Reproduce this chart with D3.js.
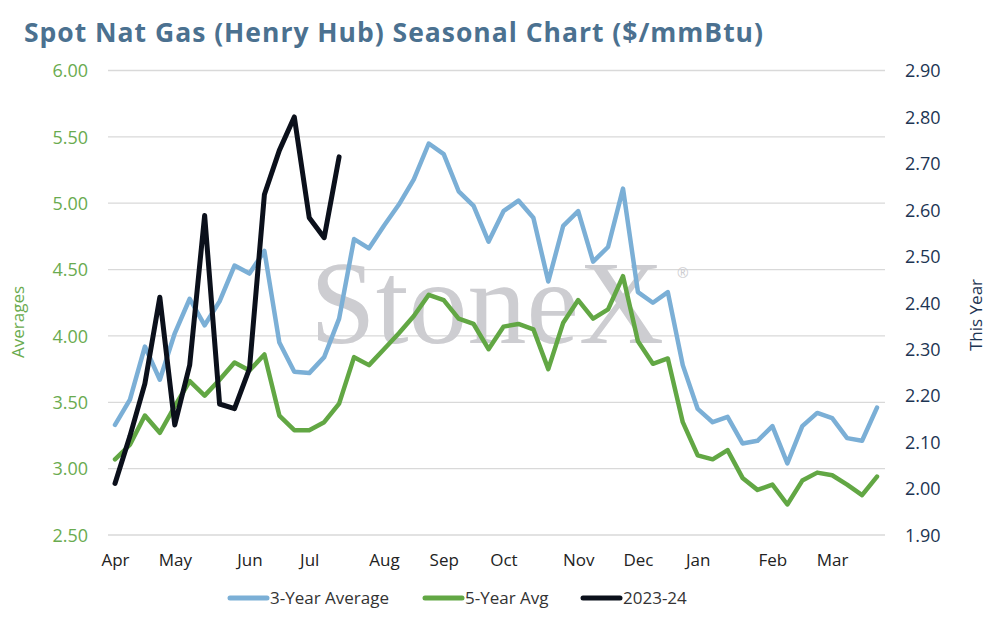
<!DOCTYPE html>
<html>
<head>
<meta charset="utf-8">
<script src="https://cdnjs.cloudflare.com/ajax/libs/d3/7.8.5/d3.min.js"></script>
<style>
  body { margin: 0; background: #fff; }
  text { font-family: "Open Sans", "Noto Sans", sans-serif; }
</style>
</head>
<body>
<div id="chart"></div>
<script>
// week categories: Mondays from 3 Apr 2023 to 25 Mar 2024 (52 weeks)
var weeks = d3.timeMonday.range(new Date(2023, 3, 3), new Date(2024, 2, 26));

// 3-Year Average (left axis)
var avg3 = [3.33, 3.52, 3.92, 3.67, 4.02, 4.28, 4.08, 4.26, 4.53, 4.47,
  4.64, 3.95, 3.73, 3.72, 3.84, 4.13, 4.73, 4.66, 4.83, 4.99,
  5.18, 5.45, 5.37, 5.09, 4.98, 4.71, 4.94, 5.02, 4.89, 4.41,
  4.83, 4.94, 4.56, 4.67, 5.11, 4.33, 4.25, 4.33, 3.78, 3.45,
  3.35, 3.39, 3.19, 3.21, 3.32, 3.04, 3.32, 3.42, 3.38, 3.23,
  3.21, 3.46];

// 5-Year Avg (left axis)
var avg5 = [3.07, 3.18, 3.40, 3.27, 3.47, 3.66, 3.55, 3.67, 3.80, 3.74,
  3.86, 3.40, 3.29, 3.29, 3.35, 3.49, 3.84, 3.78, 3.90, 4.02,
  4.15, 4.31, 4.27, 4.13, 4.09, 3.90, 4.07, 4.09, 4.05, 3.75,
  4.10, 4.27, 4.13, 4.20, 4.45, 3.96, 3.79, 3.83, 3.35, 3.10,
  3.07, 3.14, 2.93, 2.84, 2.88, 2.73, 2.91, 2.97, 2.95, 2.88,
  2.80, 2.94];

// 2023-24 (right axis)
var thisYear = [2.011, 2.113, 2.226, 2.412, 2.137, 2.266, 2.588, 2.182,
  2.172, 2.258, 2.633, 2.728, 2.800, 2.583, 2.540, 2.714];

var leftTicks = [2.5, 3.0, 3.5, 4.0, 4.5, 5.0, 5.5, 6.0];
var rightTicks = [1.9, 2.0, 2.1, 2.2, 2.3, 2.4, 2.5, 2.6, 2.7, 2.8, 2.9];

var series = [
  { name: "3-Year Average", values: avg3, color: "#7bafd6", axis: "left" },
  { name: "5-Year Avg", values: avg5, color: "#62a744", axis: "left" },
  { name: "2023-24", values: thisYear, color: "#0b101b", axis: "right" }
];

var W = 993, H = 617;
var svg = d3.select("#chart").append("svg").attr("width", W).attr("height", H);

var x = d3.scalePoint().domain(weeks).range([115, 877]);
var yL = d3.scaleLinear().domain([2.5, 6]).range([535, 70.5]);
var yR = d3.scaleLinear().domain([1.9, 2.9]).range([535, 70.5]);

// title
svg.append("text")
  .attr("x", 24).attr("y", 42)
  .attr("textLength", 739).attr("lengthAdjust", "spacing")
  .style("font-size", "26.5px").style("font-weight", "700")
  .style("fill", "#4b7190")
  .text("Spot Nat Gas (Henry Hub) Seasonal Chart ($/mmBtu)");

// gridlines
svg.append("g").selectAll("line").data(leftTicks).enter().append("line")
  .attr("x1", 108).attr("x2", 885)
  .attr("y1", function (d) { return yL(d); })
  .attr("y2", function (d) { return yL(d); })
  .attr("stroke", "#d9d9d9").attr("stroke-width", 1.3);

// watermark
var wm = svg.append("g");
wm.append("text")
  .attr("x", 310).attr("y", 343)
  .style("font-family", "'Liberation Serif', 'DejaVu Serif', serif")
  .style("font-size", "118px")
  .style("fill", "#cdcdd1")
  .text("StoneX");
wm.append("text")
  .attr("x", 677).attr("y", 278)
  .style("font-size", "14px")
  .style("fill", "#cdcdd1")
  .text("®");

// left axis
var gL = svg.append("g").attr("transform", "translate(88,0)")
  .call(d3.axisLeft(yL).tickValues(leftTicks).tickFormat(d3.format(".2f")).tickSize(0).tickPadding(0));
gL.select(".domain").remove();
gL.selectAll("text").style("font-size", "18px").style("fill", "#6aab4f").attr("dy", "0.35em");

// right axis
var gR = svg.append("g").attr("transform", "translate(905,0)")
  .call(d3.axisRight(yR).tickValues(rightTicks).tickFormat(d3.format(".2f")).tickSize(0).tickPadding(0));
gR.select(".domain").remove();
gR.selectAll("text").style("font-size", "18px").style("fill", "#1d3553").attr("dy", "0.35em");

// x axis: first week of each month
var monthTicks = weeks.filter(function (d, i) {
  return i === 0 || d.getMonth() !== weeks[i - 1].getMonth();
});
var gX = svg.append("g").attr("transform", "translate(0,554)")
  .call(d3.axisBottom(x).tickValues(monthTicks).tickFormat(d3.timeFormat("%b")).tickSize(0).tickPadding(0));
gX.select(".domain").remove();
gX.selectAll("text").style("font-size", "17px").style("fill", "#222").attr("dy", "0.71em");

// axis titles
svg.append("text")
  .attr("transform", "translate(24,322) rotate(-90)")
  .attr("text-anchor", "middle")
  .style("font-size", "17px").style("fill", "#6aab4f")
  .text("Averages");
svg.append("text")
  .attr("transform", "translate(982,315) rotate(-90)")
  .attr("text-anchor", "middle")
  .style("font-size", "17px").style("fill", "#1d3553")
  .text("This Year");

// lines
series.forEach(function (s) {
  var y = s.axis === "left" ? yL : yR;
  var line = d3.line()
    .x(function (d, i) { return x(weeks[i]); })
    .y(function (d) { return y(d); });
  svg.append("path")
    .datum(s.values)
    .attr("d", line)
    .attr("fill", "none")
    .attr("stroke", s.color)
    .attr("stroke-width", s.axis === "left" ? 4.5 : 5)
    .attr("stroke-linejoin", "round")
    .attr("stroke-linecap", "round");
});

// legend
var legendX = [230, 425, 583];
var lg = svg.append("g").selectAll("g").data(series).enter().append("g")
  .attr("transform", function (d, i) { return "translate(" + legendX[i] + ",598)"; });
lg.append("line")
  .attr("x1", 0).attr("x2", 37)
  .attr("stroke", function (d) { return d.color; })
  .attr("stroke-width", 5).attr("stroke-linecap", "round");
lg.append("text")
  .attr("x", 40).attr("dy", "0.35em")
  .style("font-size", "17px").style("fill", "#333")
  .text(function (d) { return d.name; });
</script>
</body>
</html>
